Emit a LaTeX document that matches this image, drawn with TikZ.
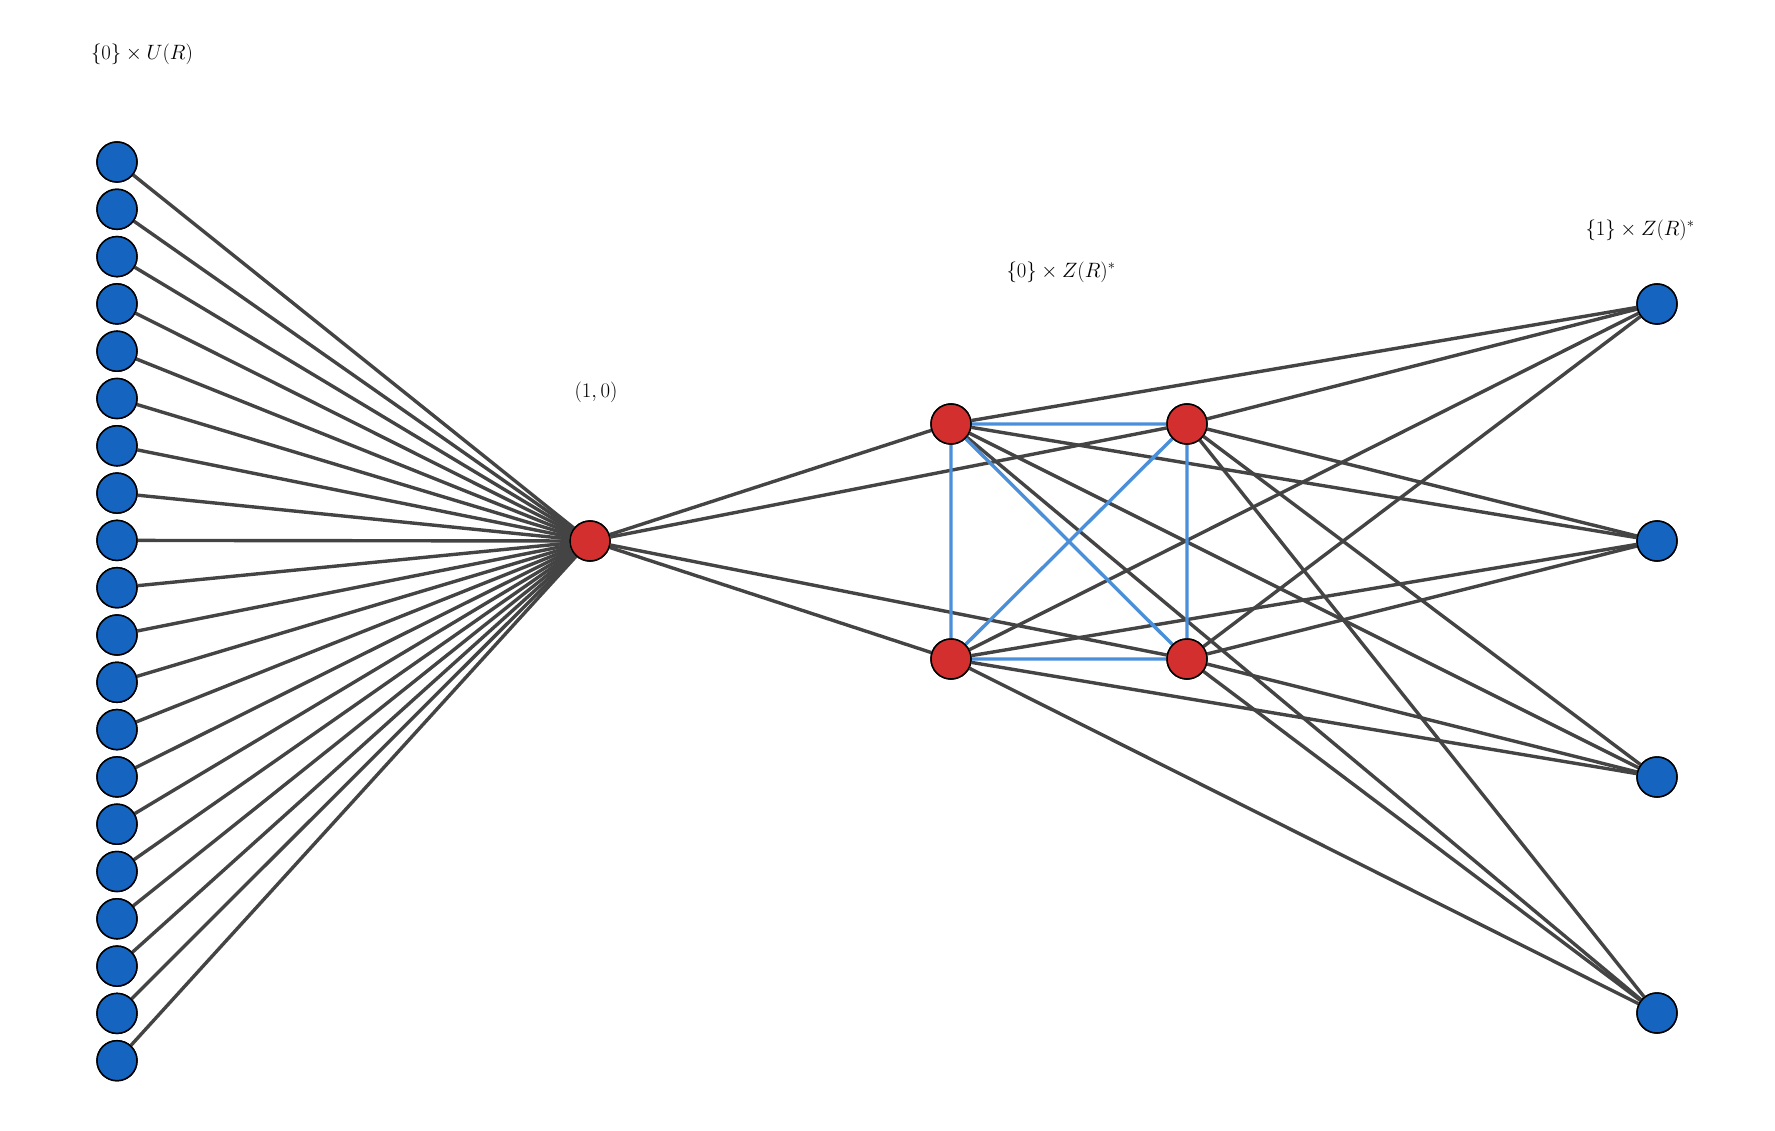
\documentclass[tikz,border=0pt]{standalone}
\begin{document}
\begin{tikzpicture}[x=1pt,y=-1pt,
  vb/.style={circle,draw=black,line width=1.5pt,minimum size=40pt,inner sep=0pt,fill=bnode},
  vr/.style={circle,draw=black,line width=1.5pt,minimum size=40pt,inner sep=0pt,fill=rnode},
  ed/.style={draw=edgec,line width=3.4pt},
  eb/.style={draw=blueed,line width=3.4pt},
  lab/.style={font=\fontsize{20}{24}\selectfont}]
\definecolor{bnode}{HTML}{1565C0}
\definecolor{rnode}{HTML}{D32F2F}
\definecolor{edgec}{HTML}{444444}
\definecolor{blueed}{HTML}{4A8FD8}
\useasboundingbox (0,0) rectangle (1775,1131);
\node[vr] (c) at (590,541) {};
\foreach \i in {0,...,19} {\node[vb] (l\i) at (117,{162+\i*47.3}) {};}
\node[vr] (r1) at (951,424) {};
\node[vr] (r2) at (1187,424) {};
\node[vr] (r3) at (951,659) {};
\node[vr] (r4) at (1187,659) {};
\foreach \j/\y in {1/304,2/541,3/777,4/1013} {\node[vb] (q\j) at (1657,\y) {};}
\begin{scope}[on background layer/.try]
\foreach \i in {0,...,19} {\path[ed] (c) -- (l\i);}
\foreach \r in {r1,r2,r3,r4} {\path[ed] (c) -- (\r);
  \foreach \j in {1,...,4} {\path[ed] (\r) -- (q\j);}}
\path[eb] (r1)--(r2) (r1)--(r3) (r1)--(r4) (r2)--(r3) (r2)--(r4) (r3)--(r4);
\end{scope}
\foreach \n in {c,r1,r2,r3,r4} {\node[vr] at (\n) {};}
\foreach \i in {0,...,19} {\node[vb] at (l\i) {};}
\foreach \j in {1,...,4} {\node[vb] at (q\j) {};}
\node[lab] (t1) at (142,54) {$\{0\}\times U(R)$};
\node[lab] (t2) at (596,392) {$(1,0)$};
\node[lab] (t3) at (1061,272) {$\{0\}\times Z(R)^*$};
\node[lab] (t4) at (1640,230) {$\{1\}\times Z(R)^*$};
\end{tikzpicture}
\end{document}
